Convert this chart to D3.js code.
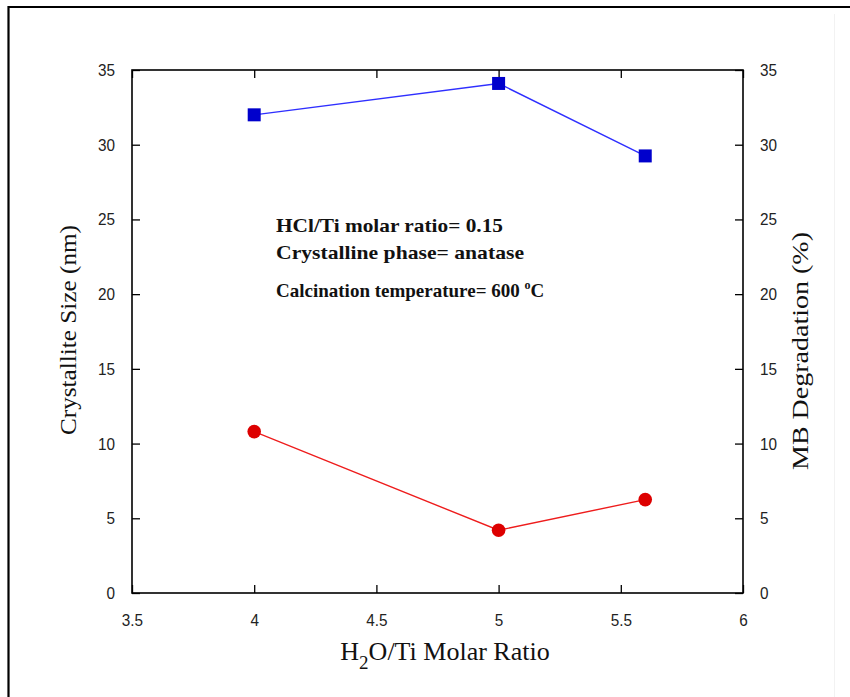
<!DOCTYPE html>
<html><head><meta charset="utf-8">
<script src="https://cdn.jsdelivr.net/npm/d3@7"></script>
<style>body{margin:0;background:#fff}svg{display:block}</style>
</head><body>
<script>
const xValues = [4, 5, 5.6];
const blueSeries = [32.0, 34.1, 29.25];
const redSeries = [10.8, 4.2, 6.25];
const xTicks = [3.5, 4, 4.5, 5, 5.5, 6];
const yTicks = [0, 5, 10, 15, 20, 25, 30, 35];
const notes = ["HCl/Ti molar ratio= 0.15", "Crystalline phase= anatase"];
const noteWidths = [227, 248];

const W = 850, H = 697;
const m = {left: 132, right: 743, top: 70, bottom: 593};
const svg = d3.select("body").append("svg").attr("width", W).attr("height", H);

svg.append("path").attr("d", `M8.5,${H} V7 H${W}`).attr("fill","none").attr("stroke","#000").attr("stroke-width",2.2);
svg.append("line").attr("x1",834.5).attr("x2",834.5).attr("y1",14).attr("y2",H).attr("stroke","#f2f2f2");

const x = d3.scaleLinear().domain([3.5, 6]).range([m.left, m.right]);
const y = d3.scaleLinear().domain([0, 35]).range([m.bottom, m.top]);

const tickFont = "'Liberation Sans', Arial, sans-serif";
function styleAxis(g){
  g.select(".domain").remove();
  g.selectAll(".tick line").attr("stroke","#000").attr("stroke-width",1.3);
  g.selectAll(".tick text").attr("font-family",tickFont).attr("font-size",17).attr("fill","#222")
    .attr("transform","scale(0.9,1)");
}
function fixScale(g){
  g.selectAll(".tick text").each(function(){
    const t = d3.select(this);
    const xx = +t.attr("x") || 0;
    t.attr("x", xx/0.9);
  });
}
svg.append("g").attr("transform",`translate(0,${m.bottom})`)
  .call(d3.axisBottom(x).tickValues(xTicks).tickFormat(d3.format("")).tickSizeInner(-8).tickSizeOuter(0).tickPadding(21))
  .call(styleAxis).call(fixScale);
svg.append("g").attr("transform",`translate(0,${m.top})`)
  .call(d3.axisTop(x).tickValues(xTicks).tickFormat("").tickSizeInner(-8).tickSizeOuter(0))
  .call(styleAxis);
svg.append("g").attr("transform",`translate(${m.left},0)`)
  .call(d3.axisLeft(y).tickValues(yTicks).tickSizeInner(-8).tickSizeOuter(0).tickPadding(17))
  .call(styleAxis).call(fixScale);
svg.append("g").attr("transform",`translate(${m.right},0)`)
  .call(d3.axisRight(y).tickValues(yTicks).tickSizeInner(-8).tickSizeOuter(0).tickPadding(17))
  .call(styleAxis).call(fixScale);

svg.append("rect").attr("x",m.left).attr("y",m.top).attr("width",m.right-m.left).attr("height",m.bottom-m.top)
  .attr("fill","none").attr("stroke","#000").attr("stroke-width",1.6);

const line = d3.line().x((d,i)=>x(xValues[i])).y(d=>y(d));
svg.append("path").datum(redSeries).attr("d",line).attr("fill","none").attr("stroke","#ee1c1c").attr("stroke-width",1.4);
svg.append("path").datum(blueSeries).attr("d",line).attr("fill","none").attr("stroke","#2f2fff").attr("stroke-width",1.4);

svg.selectAll(".sq").data(blueSeries).enter().append("rect")
  .attr("x",(d,i)=>x(xValues[i])-6.5).attr("y",d=>y(d)-6.5).attr("width",13).attr("height",13).attr("fill","#0000cc");
svg.selectAll(".ci").data(redSeries).enter().append("circle")
  .attr("cx",(d,i)=>x(xValues[i])).attr("cy",d=>y(d)).attr("r",6.8).attr("fill","#dd0000");

const serif = "'Liberation Serif', 'Times New Roman', serif";
svg.append("text").attr("transform","translate(76,330) rotate(-90)").attr("text-anchor","middle")
  .attr("font-family",serif).attr("font-size",24).attr("fill","#111")
  .attr("textLength",210).attr("lengthAdjust","spacingAndGlyphs").text("Crystallite Size (nm)");
svg.append("text").attr("transform","translate(808,351) rotate(-90)").attr("text-anchor","middle")
  .attr("font-family",serif).attr("font-size",24).attr("fill","#111")
  .attr("textLength",238).attr("lengthAdjust","spacingAndGlyphs").text("MB Degradation (%)");

const xt = svg.append("text").attr("x",445).attr("y",660).attr("text-anchor","middle")
  .attr("font-family",serif).attr("font-size",26).attr("fill","#111");
xt.append("tspan").text("H");
xt.append("tspan").attr("dy",9).attr("font-size",19).text("2");
xt.append("tspan").attr("dy",-9).text("O/Ti Molar Ratio");

const ann = svg.append("g").attr("font-family",serif).attr("font-size",19).attr("font-weight","bold").attr("fill","#111");
notes.forEach((t,i)=>ann.append("text").attr("x",276).attr("y",232+i*27)
  .attr("textLength",noteWidths[i]).attr("lengthAdjust","spacingAndGlyphs").text(t));
const t3 = ann.append("text").attr("x",276).attr("y",297);
t3.append("tspan").text("Calcination temperature= 600 ");
t3.append("tspan").attr("dy",-8).attr("font-size",12).text("o");
t3.append("tspan").attr("dy",8).text("C");
</script>
</body></html>
